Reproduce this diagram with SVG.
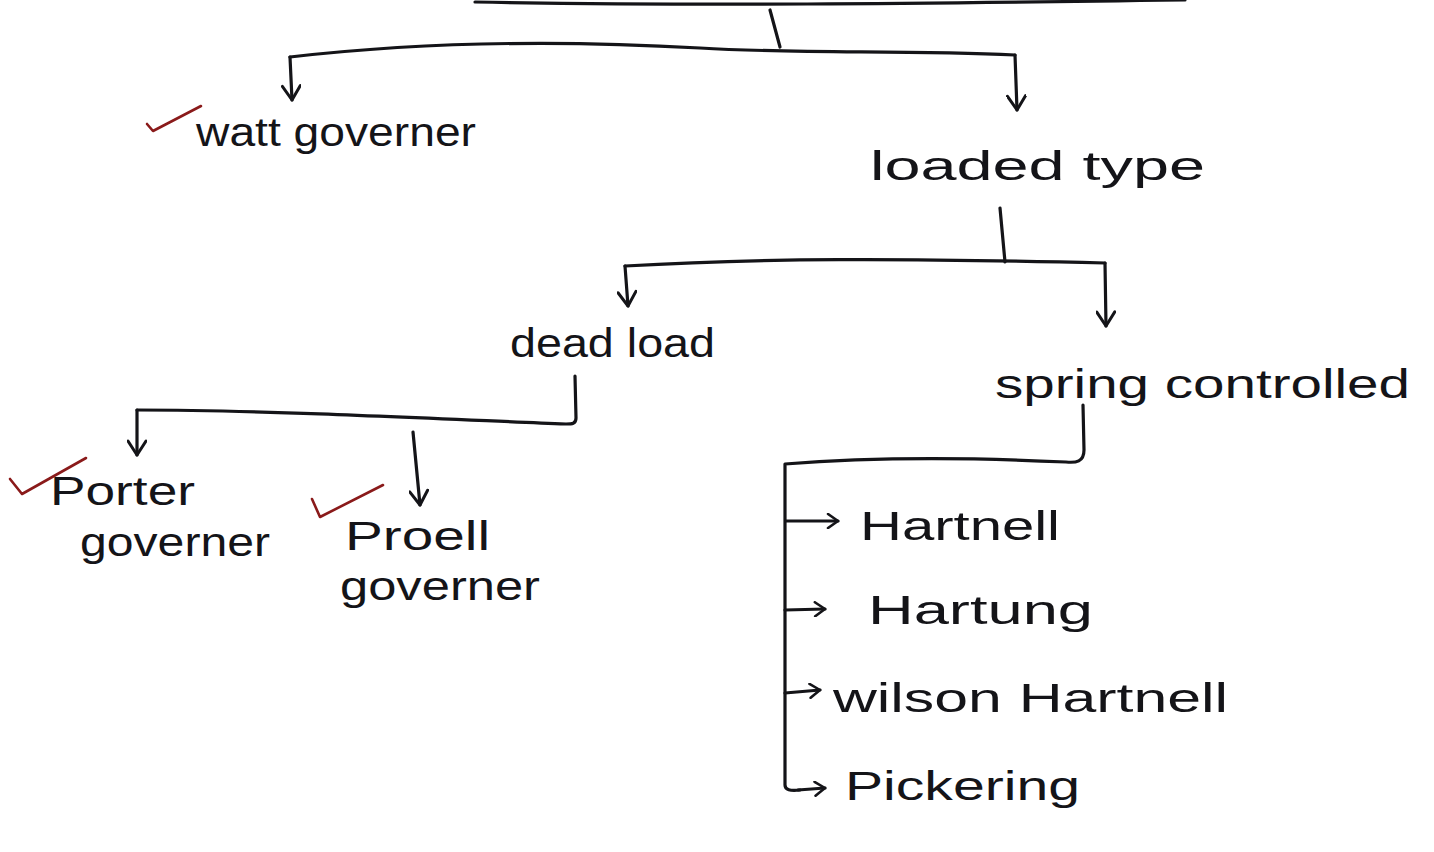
<svg xmlns="http://www.w3.org/2000/svg" width="1434" height="852" viewBox="0 0 1434 852">
  <style>
    .ink { fill: none; stroke: #141418; stroke-width: 3.2; stroke-linecap: round; stroke-linejoin: round; }
    .tick { fill: none; stroke: #8a1a1a; stroke-width: 2.6; stroke-linecap: round; stroke-linejoin: round; }
    .label { font-family: "Liberation Sans", "DejaVu Sans", sans-serif; font-size: 40px; fill: #141418; }
  </style>
  <defs>
    <!-- open chevron head, follows the path direction -->
    <marker id="head" viewBox="0 0 20 20" refX="18" refY="10" markerWidth="20" markerHeight="20" markerUnits="userSpaceOnUse" orient="auto">
      <path d="M4,1 L18,10 L4,19" fill="none" stroke="#141418" stroke-width="3" stroke-linecap="round" stroke-linejoin="round"/>
    </marker>
    <marker id="headR" viewBox="0 0 16 16" refX="14" refY="8" markerWidth="16" markerHeight="16" markerUnits="userSpaceOnUse" orient="auto">
      <path d="M4,1 L14,8 L4,15" fill="none" stroke="#141418" stroke-width="2.6" stroke-linecap="round" stroke-linejoin="round"/>
    </marker>
  </defs>
  <rect width="1434" height="852" fill="#ffffff"/>

  <g id="connectors">
    <!-- rule carried over from the line above -->
    <path class="ink" d="M475,2 C700,6 900,4 1185,0"/>
    <!-- root split -->
    <path class="ink" d="M770,10 L780,47"/>
    <path class="ink" d="M290,57 C420,42 560,40 700,48 C800,54 900,50 1015,55"/>
    <path class="ink" d="M290,57 L292,100" marker-end="url(#head)"/>
    <path class="ink" d="M1015,55 L1017,110" marker-end="url(#head)"/>
    <!-- loaded type split -->
    <path class="ink" d="M1000,208 L1005,262"/>
    <path class="ink" d="M625,266 C760,258 900,258 1105,263"/>
    <path class="ink" d="M625,266 L628,306" marker-end="url(#head)"/>
    <path class="ink" d="M1105,263 L1106,326" marker-end="url(#head)"/>
    <!-- dead load split -->
    <path class="ink" d="M575,376 L576,418 C576,424 572,424 566,424 C420,418 260,410 137,410"/>
    <path class="ink" d="M137,410 L137,455" marker-end="url(#head)"/>
    <path class="ink" d="M413,432 L420,505" marker-end="url(#head)"/>
    <!-- spring controlled list -->
    <path class="ink" d="M1083,405 L1084,450 C1084,462 1076,463 1066,462 C960,457 860,458 785,464 L785,785 C785,790 790,791 800,790"/>
    <path class="ink" d="M786,521 L838,521" marker-end="url(#headR)"/>
    <path class="ink" d="M785,610 L825,609" marker-end="url(#headR)"/>
    <path class="ink" d="M785,693 L820,690" marker-end="url(#headR)"/>
    <path class="ink" d="M798,790 L825,788" marker-end="url(#headR)"/>
  </g>

  <g id="watt">
    <path class="tick" d="M147,124 L153,131 L201,106"/>
    <text class="label" x="196" y="146" textLength="280" lengthAdjust="spacingAndGlyphs">watt governer</text>
  </g>
  <g id="loaded">
    <text class="label" x="870" y="180" textLength="335" lengthAdjust="spacingAndGlyphs">loaded type</text>
  </g>
  <g id="deadload">
    <text class="label" x="510" y="357" textLength="205" lengthAdjust="spacingAndGlyphs">dead load</text>
  </g>
  <g id="spring">
    <text class="label" x="995" y="398" textLength="415" lengthAdjust="spacingAndGlyphs">spring controlled</text>
  </g>
  <g id="porter">
    <path class="tick" d="M10,479 L22,494 L86,458"/>
    <text class="label" x="50" y="505" textLength="145" lengthAdjust="spacingAndGlyphs">Porter</text>
    <text class="label" x="80" y="556" textLength="190" lengthAdjust="spacingAndGlyphs">governer</text>
  </g>
  <g id="proell">
    <path class="tick" d="M312,499 L320,517 L383,485"/>
    <text class="label" x="345" y="550" textLength="145" lengthAdjust="spacingAndGlyphs">Proell</text>
    <text class="label" x="340" y="600" textLength="200" lengthAdjust="spacingAndGlyphs">governer</text>
  </g>
  <g id="hartnell">
    <text class="label" x="860" y="540" textLength="200" lengthAdjust="spacingAndGlyphs">Hartnell</text>
  </g>
  <g id="hartung">
    <text class="label" x="868" y="624" textLength="225" lengthAdjust="spacingAndGlyphs">Hartung</text>
  </g>
  <g id="wilson">
    <text class="label" x="833" y="712" textLength="395" lengthAdjust="spacingAndGlyphs">wilson Hartnell</text>
  </g>
  <g id="pickering">
    <text class="label" x="845" y="800" textLength="235" lengthAdjust="spacingAndGlyphs">Pickering</text>
  </g>
</svg>
